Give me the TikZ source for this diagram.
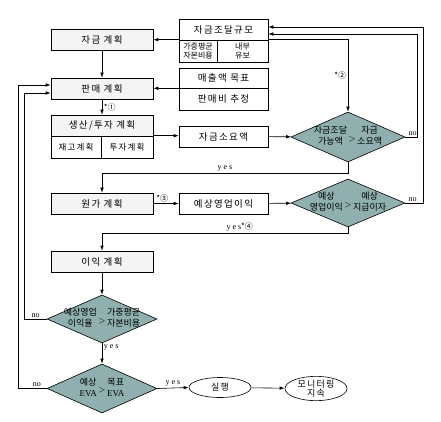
\documentclass[tikz,border=0pt]{standalone}
\usepackage{fontspec}
\setmainfont{Liberation Serif}
\newfontfamily\kr[LetterSpace=14]{Noto Sans CJK KR}
\newfontfamily\krd{Noto Sans CJK KR}
\usetikzlibrary{arrows.meta,positioning,calc,shapes.geometric}
\definecolor{gyecol}{HTML}{F4F4F4}
\definecolor{pancol}{HTML}{8FB0AE}
\newcommand{\bigyo}[4]{\begin{tabular}{@{}c@{\,}c@{\,}c@{}}#1&&#3\\#2&\raisebox{.7ex}{$>$}&#4\end{tabular}}
\tikzset{
  gye/.style={draw,fill=gyecol,minimum width=102pt,minimum height=21pt,inner sep=0pt,font=\kr\fontsize{9.5}{10}\selectfont},
  ja/.style={draw,fill=white,minimum width=89pt,minimum height=21pt,inner sep=0pt,align=center,font=\kr\fontsize{9.5}{10}\selectfont},
  pan/.style={diamond,draw,fill=pancol,minimum width=114pt,minimum height=50pt,inner sep=0pt},
  won/.style={ellipse,draw,minimum width=62pt,minimum height=20pt,inner sep=0pt,align=center,font=\kr\fontsize{9}{9}\selectfont},
  gul/.style={font=\krd\fontsize{9}{9.5}\selectfont,align=center},
  yn/.style={font=\fontsize{8}{9}\selectfont,inner sep=1.5pt},
  yes/.style={yn,font=\fontsize{8}{9}\selectfont\addfontfeature{LetterSpace=25}},
  bun/.style={font=\krd\fontsize{8}{9}\selectfont,inner sep=1.5pt},
  hwal/.style={-{Latex[length=5pt,width=3.5pt]}},
  sn/.style={line width=0.6pt},
}

\begin{document}
\begin{tikzpicture}[x=1pt,y=-1pt,sn]
  \useasboundingbox (0,0) rectangle (441,422);
  % left column
  \node[gye] (jg) at (102,39.5) {자금 계획};
  \node[gye] (pm) at (102,88.5) {판매 계획};
  \node[gye] (sa) at (102,125.5) {생산/투자 계획};
  \node[gye,fill=white,minimum width=50pt,minimum height=22pt,font=\kr\fontsize{8.5}{9}\selectfont] (jk) at (76,147) {재고계획};
  \node[gye,fill=white,minimum width=52pt,minimum height=22pt,font=\kr\fontsize{8.5}{9}\selectfont] (tj) at (127,147) {투자계획};
  \node[gye] (wg) at (102,203.5) {원가 계획};
  \node[gye] (ig) at (102,261.5) {이익 계획};
  % right boxes
  \node[ja] (gy) at (223.5,29.5) {자금조달규모};
  \node[ja,minimum width=38pt,minimum height=22pt,font=\krd\fontsize{8}{8.5}\selectfont] (gp) at (198,51) {가중평균\\자본비용};
  \node[ja,minimum width=51pt,minimum height=22pt,font=\krd\fontsize{8}{8.5}\selectfont] (nb) at (242.5,51) {내부\\유보};
  \node[ja,minimum height=20pt] (mc) at (223.5,78) {매출액 목표};
  \node[ja,minimum height=22pt] (pb) at (223.5,99) {판매비 추정};
  \node[ja] (sy) at (223.5,136.5) {자금소요액};
  \node[ja] (yy) at (223.5,203.5) {예상영업이익};
  % decisions
  \node[pan,label={[gul]center:\bigyo{자금조달}{가능액}{자금}{소요액}}] (d1) at (348,137) {};
  \node[pan,minimum height=48pt,label={[gul]center:\bigyo{예상}{영업이익}{예상}{지급이자}}] (d2) at (348,203) {};
  \node[pan,minimum width=110pt,minimum height=48pt,label={[gul]center:\bigyo{예상영업}{이익율}{가중평균}{자본비용}}] (d3) at (102,319) {};
  \node[pan,minimum width=110pt,minimum height=49pt,label={[gul]center:\bigyo{예상}{\rmfamily EVA}{목표}{\rmfamily EVA}}] (d4) at (102,388.5) {};
  % end
  \node[won] (sh) at (220,387.5) {실행};
  \node[won,minimum height=23pt] (mo) at (316,388.5) {모니터링\\지속};

  \draw[hwal] (jg) -- (pm);
  \draw[hwal] (pm) -- node[right,bun]{*①} (sa);
  \draw[hwal] (gp.north west) -- (gp.north west -| jg.east);
  \draw[hwal] (nb.north east) -| node[left,pos=0.75,bun]{*②} (d1.north);
  \draw[hwal] (mc.south west) -- (mc.south west -| pm.east);
  \draw[hwal] (tj.north east) -- (sy.west |- tj.north east);
  \draw[hwal] (sy) -- (d1);
  \draw[hwal] (d1.south) -- ++(0,11) -| node[above,pos=0.25,yes]{yes} (wg.north);
  \draw[hwal] (wg) -- node[above,pos=0.35,bun]{*③} (yy);
  \draw[hwal] (yy) -- (d2);
  \draw[hwal] (d2.south) -- ++(0,6) -| node[above,pos=0.22,bun]{{\rmfamily\addfontfeature{LetterSpace=25}yes}*④} (ig.north);
  \draw[hwal] (ig) -- (d3);
  \draw[hwal] (d3) -- node[right,pos=0.2,yes]{yes} (d4);
  \draw[hwal] (d3.west) -- node[above,yn]{no} ++(-22,0) |- ($(pm.west)+(0,4.5)$);
  \draw[hwal] (d4.west) -- node[above,yn,pos=0.35]{no} ++(-28,0) |- ($(pm.west)+(0,-3.5)$);
  \draw[hwal] (d1.east) -- node[above,yn,pos=0.6]{no} ++(12,0) |- ($(gy.east)+(0,4.5)$);
  \draw[hwal] (d2.east) -- node[above,yn,pos=0.4]{no} ++(18,0) |- ($(gy.east)+(0,-2.5)$);
  \draw[hwal] (d4.east) -- node[above,yes]{yes} (sh.west);
  \draw[hwal] (sh) -- (mo);
\end{tikzpicture}
\end{document}
